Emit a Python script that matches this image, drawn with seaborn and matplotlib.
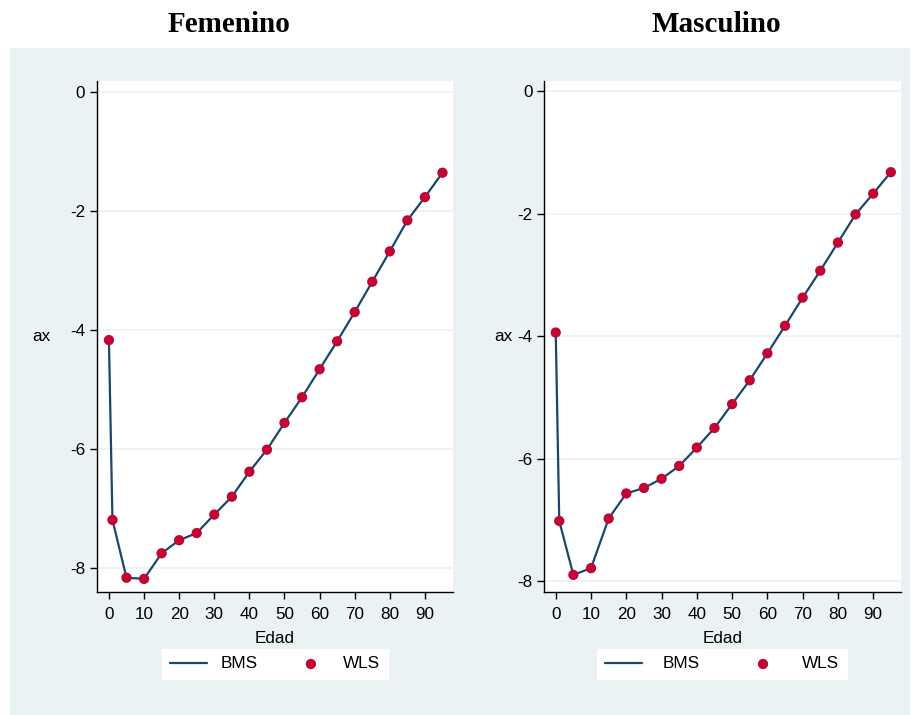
import numpy as np
import pandas as pd
import matplotlib
matplotlib.use("Agg")
import matplotlib.pyplot as plt
from matplotlib.patches import Rectangle
import seaborn as sns

# edades y valores ax (BMS y WLS coinciden en el grafico)
edad = [0, 1, 5, 10, 15, 20, 25, 30, 35, 40, 45, 50, 55, 60, 65, 70, 75, 80, 85, 90, 95]
ax_fem = [-4.17, -7.19, -8.16, -8.18, -7.75, -7.53, -7.41, -7.10, -6.80, -6.38, -6.01,
          -5.56, -5.13, -4.66, -4.19, -3.70, -3.19, -2.68, -2.16, -1.77, -1.36]
ax_masc = [-3.94, -7.02, -7.90, -7.79, -6.98, -6.57, -6.48, -6.33, -6.12, -5.82, -5.50,
           -5.11, -4.72, -4.28, -3.83, -3.37, -2.93, -2.47, -2.01, -1.67, -1.32]
titulos = ["Femenino", "Masculino"]
xticks = list(range(0, 100, 10))
yticks = [0, -2, -4, -6, -8]

sns.set_style("white")
plt.rcParams['font.family'] = ['Liberation Sans', 'DejaVu Sans']
plt.rcParams['axes.unicode_minus'] = False
plt.rcParams['font.size'] = 12.3
for k in ['text.color', 'axes.labelcolor', 'xtick.color', 'ytick.color']:
    plt.rcParams[k] = 'black'

LINE = '#1a476f'
DOT = '#c10534'
BG = '#eaf2f3'

fig = plt.figure(figsize=(9.2, 7.15), dpi=100)
W, H = 920, 715

def fx(px):
    return px / W

def fy(py):
    return 1 - py / H

fig.add_artist(Rectangle((fx(10), 0), fx(900), fy(48), transform=fig.transFigure,
                         facecolor=BG, edgecolor='none', zorder=-5))

# posiciones de los paneles (px): izquierda, derecha, ylim
paneles = [
    dict(x0=97, x1=453, xlim=(-3.4, 98), ylim=(-8.4, 0.18), ylab_x=-0.157,
         tit_x=229, leg_x=275, colsp=2.0, htp=0.8),
    dict(x0=544.3, x1=900.7, xlim=(-3.24, 97.8), ylim=(-8.18, 0.17), ylab_x=-0.115,
         tit_x=716, leg_x=722, colsp=2.6, htp=1.2),
]
datos = [ax_fem, ax_masc]

for i, p in enumerate(paneles):
    ax = fig.add_axes([fx(p['x0']), fy(592), fx(p['x1'] - p['x0']), (592 - 81) / H])
    df = pd.DataFrame({'Edad': edad, 'ax': datos[i]})
    sns.lineplot(data=df, x='Edad', y='ax', ax=ax, color=LINE, lw=1.6, label='BMS', zorder=2)
    sns.scatterplot(data=df, x='Edad', y='ax', ax=ax, color=DOT, s=55, edgecolor='none',
                    label='WLS', zorder=3)
    ax.set_xlim(*p['xlim'])
    ax.set_ylim(*p['ylim'])
    ax.set_xticks(xticks)
    ax.set_yticks(yticks)
    ax.set_yticklabels([str(t) for t in yticks])
    ax.grid(axis='y', color=BG, lw=1.2)
    ax.set_axisbelow(True)
    for s in ['top', 'right']:
        ax.spines[s].set_visible(False)
    for s in ['left', 'bottom']:
        ax.spines[s].set_color('black')
        ax.spines[s].set_linewidth(1.0)
    ax.tick_params(axis='x', pad=6)
    ax.tick_params(axis='both', direction='out', length=5, width=1, color='black',
                   left=True, bottom=True, labelsize=12.3)
    ax.set_xlabel('Edad', fontsize=12.3, labelpad=6)
    ax.set_ylabel('ax', rotation=0, fontsize=12.3, va='center', ha='center')
    ax.yaxis.set_label_coords(p['ylab_x'], 0.5)
    ax.legend(loc='center', bbox_to_anchor=(fx(p['leg_x']), fy(664)),
              bbox_transform=fig.transFigure, ncol=2, frameon=True, fancybox=False,
              facecolor='white', edgecolor='white', framealpha=1, fontsize=12.3,
              handlelength=2.2, columnspacing=p['colsp'], handletextpad=p['htp'],
              borderpad=0.45, markerscale=1.0)
    fig.text(fx(p['tit_x']), fy(32), titulos[i], ha='center', va='baseline',
             fontsize=21, fontweight='bold', family=['Liberation Serif', 'DejaVu Serif'])

fig.savefig('out.png', dpi=100)
